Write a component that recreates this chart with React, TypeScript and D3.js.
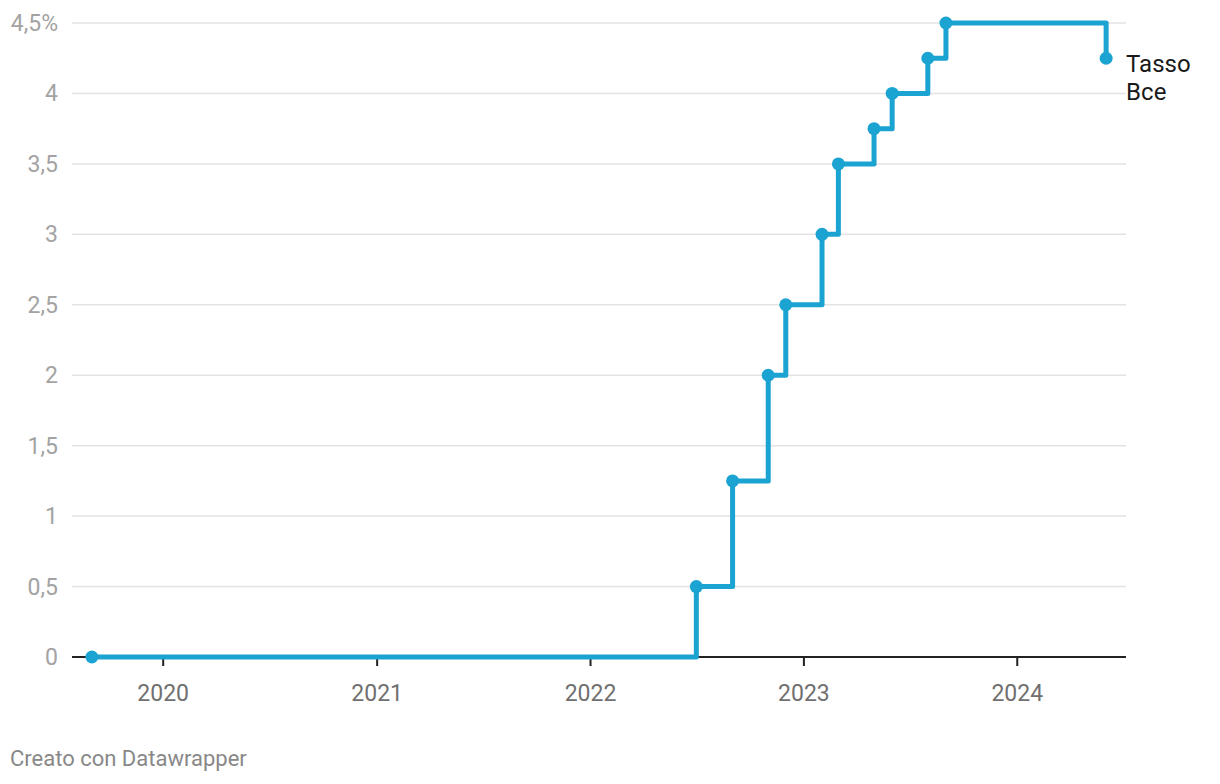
import { useRef, useEffect } from 'react';
import * as d3 from 'd3';

const DATES = [
  '2019-09-01', '2022-07-01', '2022-09-01', '2022-11-01', '2022-12-01', '2023-02-01',
  '2023-03-01', '2023-05-01', '2023-06-01', '2023-08-01', '2023-09-01', '2024-06-01',
];
const RATES = [0, 0.5, 1.25, 2, 2.5, 3, 3.5, 3.75, 4, 4.25, 4.5, 4.25];
const Y_TICKS = [0, 0.5, 1, 1.5, 2, 2.5, 3, 3.5, 4, 4.5];
const X_TICKS = ['2020', '2021', '2022', '2023', '2024'];
const SERIES_LABEL = ['Tasso', 'Bce'];

const WIDTH = 1220;
const HEIGHT = 784;
const MARGIN = { top: 23, right: 94, bottom: 127, left: 72 };
const BLUE = '#1ba3d1';
const FONT = 'Roboto, sans-serif';

export default function App() {
  const svgRef = useRef<SVGSVGElement>(null);

  useEffect(() => {
    const svg = svgRef.current;
    if (!svg) return;
    const parse = d3.timeParse('%Y-%m-%d');
    const data = DATES.map((d, i) => ({ date: parse(d)!, value: RATES[i] }));

    const innerW = WIDTH - MARGIN.left - MARGIN.right;
    const innerH = HEIGHT - MARGIN.top - MARGIN.bottom;

    const x = d3.scaleTime()
      .domain([parse('2019-07-29')!, parse('2024-07-05')!])
      .range([0, innerW]);
    const y = d3.scaleLinear().domain([0, 4.5]).range([innerH, 0]);

    const root = d3.select(svg);
    root.selectAll('*').remove();
    const g = root.append('g').attr('transform', `translate(${MARGIN.left},${MARGIN.top})`);

    // Grid + y labels
    Y_TICKS.forEach(t => {
      if (t > 0) {
        g.append('line').attr('x1', 0).attr('x2', innerW)
          .attr('y1', y(t)).attr('y2', y(t))
          .attr('stroke', '#e3e3e3').attr('stroke-width', 1.5);
      }
      g.append('text').attr('x', -14).attr('y', y(t)).attr('dy', '0.35em')
        .attr('text-anchor', 'end').attr('fill', '#a3a3a3')
        .attr('font-family', FONT).attr('font-size', '23px')
        .text(t === 4.5 ? '4,5%' : String(t).replace('.', ','));
    });

    // X axis
    g.append('line').attr('x1', 0).attr('x2', innerW)
      .attr('y1', innerH).attr('y2', innerH)
      .attr('stroke', '#222').attr('stroke-width', 2);
    X_TICKS.forEach(yr => {
      const px = x(parse(`${yr}-01-01`)!);
      g.append('line').attr('x1', px).attr('x2', px)
        .attr('y1', innerH).attr('y2', innerH + 9)
        .attr('stroke', '#222').attr('stroke-width', 2);
      g.append('text').attr('x', px).attr('y', innerH + 44)
        .attr('text-anchor', 'middle').attr('fill', '#707070')
        .attr('font-family', FONT).attr('font-size', '23px').text(yr);
    });

    // Step line
    const line = d3.line<{ date: Date; value: number }>()
      .x(d => x(d.date)).y(d => y(d.value))
      .curve(d3.curveStepAfter);
    g.append('path').datum(data).attr('d', line)
      .attr('fill', 'none').attr('stroke', BLUE).attr('stroke-width', 5)
      .attr('stroke-linejoin', 'round');

    g.selectAll('circle').data(data).join('circle')
      .attr('cx', d => x(d.date)).attr('cy', d => y(d.value))
      .attr('r', 6.5).attr('fill', BLUE);

    // Series label
    const last = data[data.length - 1];
    const lbl = g.append('text').attr('x', x(last.date) + 21).attr('y', y(last.value) + 14)
      .attr('fill', '#1a1a1a').attr('font-family', FONT).attr('font-size', '24px');
    SERIES_LABEL.forEach((s, i) => {
      lbl.append('tspan').attr('x', x(last.date) + 20).attr('dy', i === 0 ? 0 : 28).text(s);
    });

    // Footer
    root.append('text').attr('x', 10).attr('y', 766).attr('fill', '#888')
      .attr('font-family', FONT).attr('font-size', '22px').text('Creato con Datawrapper');
  }, []);

  return (
    <div style={{ position: 'absolute', left: 0, top: 0 }}>
      <svg ref={svgRef} width={WIDTH} height={HEIGHT} style={{ display: 'block', background: '#fff' }} />
    </div>
  );
}
